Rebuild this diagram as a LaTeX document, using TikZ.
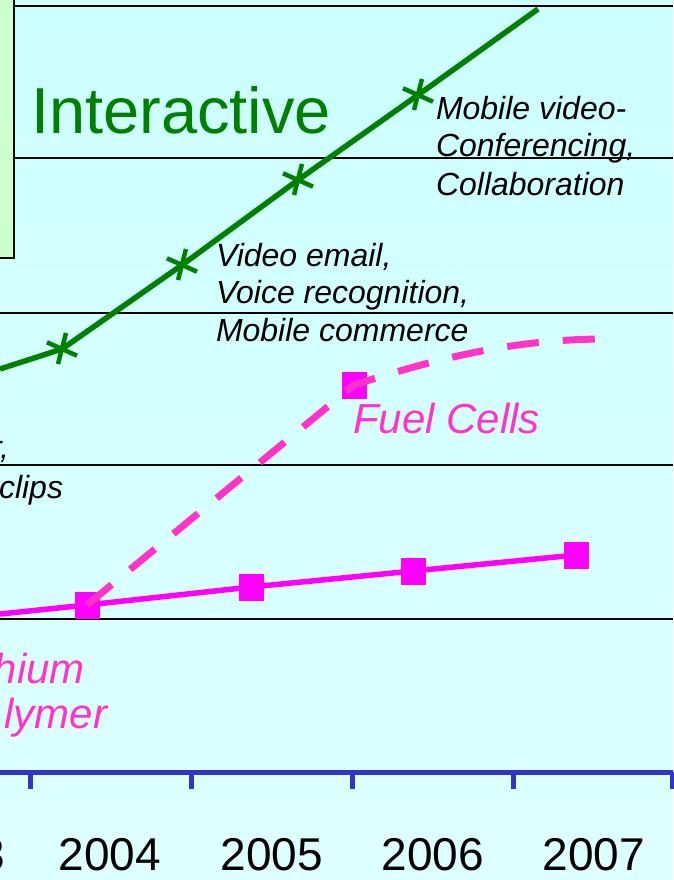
\documentclass[tikz,border=0pt]{standalone}
\usepackage{fontspec}
\setmainfont{Liberation Sans}
\definecolor{bgtop}{HTML}{CCFFFF}
\definecolor{bgbot}{HTML}{DEFFFF}
\definecolor{boxgreen}{HTML}{CCFFCC}
\definecolor{chartgreen}{HTML}{008000}
\definecolor{magentasq}{HTML}{FF00FF}
\definecolor{pinkdash}{HTML}{FF33CC}
\definecolor{axisblue}{HTML}{3333CC}
\begin{document}
\begin{tikzpicture}[x=1pt,y=-1pt,
  hline/.style={line width=2pt, draw=black},
  gline/.style={line width=5.5pt, draw=chartgreen, line join=round},
  gmark/.style={line width=4.5pt, draw=chartgreen},
  gstar/.pic={\draw[gmark] (-15,-6.7) -- (15,6.7) (4,-16) -- (-4,15);},
  pline/.style={line width=5.5pt, draw=magentasq},
  dline/.style={line width=7pt, draw=pinkdash, dash pattern=on 32pt off 24pt},
  sq/.style={rectangle, fill=magentasq, minimum width=25pt, minimum height=27pt, inner sep=0pt},
  axisline/.style={line width=5pt, draw=axisblue},
  lab/.style={inner sep=0pt, outer sep=0pt, anchor=base west, font=\fontsize{32}{38}\selectfont\itshape},
  labe/.style={lab, anchor=base east},
  pinklab/.style={inner sep=0pt, outer sep=0pt, anchor=base west, text=pinkdash, font=\fontsize{42}{50}\selectfont\itshape},
  year/.style={inner sep=0pt, outer sep=0pt, anchor=base, font=\fontsize{46}{55}\selectfont}]
\useasboundingbox (0,0) rectangle (673,880);
% background
\shade[top color=bgtop, bottom color=bgbot] (0,0) rectangle (673,880);
% grid lines
\foreach \yy in {6,158,313,465,619}
  \draw[hline] (0,\yy) -- (673,\yy);
% left box
\draw[line width=2pt, fill=boxgreen] (-10,-10) rectangle (14,258);
% axis
\coordinate (axL) at (0,772);
\coordinate (axR) at (673,772);
\draw[axisline] (axL) -- (axR);
\foreach \xx in {30,191,352,513,672}
  \draw[axisline] (\xx,772) -- (\xx,789);
% year labels
\node[year, anchor=base east] (y2003) at (5,870) {3};
\node[year] (y2004) at (110,870) {2004};
\node[year] (y2005) at (272,870) {2005};
\node[year] (y2006) at (433,870) {2006};
\node[year] (y2007) at (594,870) {2007};
% green line
\coordinate (g0) at (0,369);
\coordinate (g1) at (62,349);
\coordinate (g2) at (182,265);
\coordinate (g3) at (298,180);
\coordinate (g4) at (418,95);
\coordinate (g5) at (538,9);
\draw[gline] (g0) -- (g1) -- (g2) -- (g3) -- (g4) -- (g5);
\foreach \g in {g1,g2,g3,g4}
  \pic at (\g) {gstar};
% pink solid line
\coordinate (p0) at (0,614);
\coordinate (p1) at (87,605);
\coordinate (p2) at (251,587);
\coordinate (p3) at (413,571);
\coordinate (p4) at (576,555);
\draw[pline] (p0) -- (p1) -- (p2) -- (p3) -- (p4);
\node[sq] (s1) at (p1) {};
\node[sq] (s2) at (p2) {};
\node[sq] (s3) at (p3) {};
\node[sq] (s4) at (p4) {};
% fuel cells dashed
\coordinate (f1) at (354,385);
\coordinate (f2) at (600,339);
\node[sq] (sf) at (f1) {};
\draw[dline] (p1) -- (f1) .. controls (450,354) and (520,340) .. (f2);
% texts
\node[inner sep=0pt, anchor=base west, text=chartgreen, font=\fontsize{65}{78}\selectfont] (inter) at (31,133) {Interactive};
\node[lab] (mv1) at (436,120) {Mobile video-};
\node[lab] (mv2) at (436,157) {Conferencing,};
\node[lab] (mv3) at (436,195) {Collaboration};
\node[lab] (ve1) at (216,266) {Video email,};
\node[lab] (ve2) at (216,303) {Voice recognition,};
\node[lab] (ve3) at (216,341) {Mobile commerce};
\node[labe] (rr) at (9,458) {r,};
\node[lab] (clips) at (-1,498) {clips};
\node[pinklab] (fuel) at (353,433) {Fuel Cells};
\node[pinklab, anchor=base east] (hium) at (85,683) {hium};
\node[pinklab, anchor=base east] (lymer) at (107,728) {lymer};
\end{tikzpicture}
\end{document}
